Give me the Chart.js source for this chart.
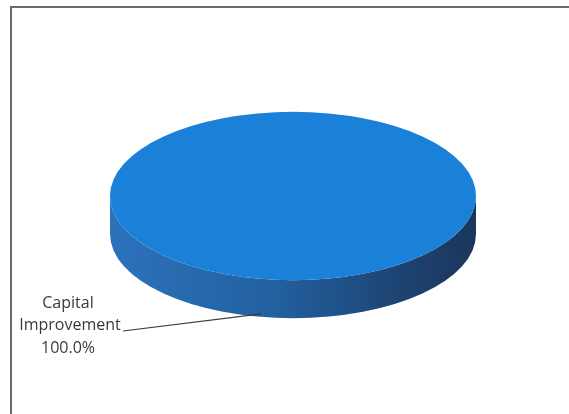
<!DOCTYPE html>
<html>
<head>
<meta charset="utf-8">
<script src="https://cdn.jsdelivr.net/npm/chart.js@4"></script>
<style>
  html, body { margin: 0; padding: 0; background: #fff; }
  #wrap { position: relative; width: 569px; height: 414px; }
  #frame { position: absolute; left: 10px; top: 6px; width: 570px; height: 420px;
           border-left: 2px solid #6a6a6a; border-top: 2px solid #6a6a6a; }
</style>
</head>
<body>
<div id="wrap">
  <div id="frame"></div>
  <canvas id="pieChart" width="569" height="414"></canvas>
</div>
<script>
var categories = ['Capital Improvement'];
var values = [100.0];
var topColors = ['#1b80d8'];

// 3D look: squash the pie into an ellipse and add a side wall
var tilt = 0.46;   // vertical squash of the top face
var depth = 38;    // side wall height in pixels

function percentText(i) {
    var total = values.reduce(function (a, b) { return a + b; }, 0);
    return (values[i] / total * 100).toFixed(1) + '%';
}

var pie3d = {
    id: 'pie3d',
    beforeDatasetsDraw: function (chart) {
        var arc = chart.getDatasetMeta(0).data[0];
        var ctx = chart.ctx;
        var cx = arc.x, cy = arc.y, r = arc.outerRadius;
        ctx.save();
        ctx.translate(cx, cy);
        ctx.scale(1, tilt);
        var d = depth / tilt;
        var grad = ctx.createLinearGradient(-r, 0, r, 0);
        grad.addColorStop(0, '#2c72bd');
        grad.addColorStop(0.45, '#22609f');
        grad.addColorStop(0.85, '#1d3f6c');
        grad.addColorStop(1, '#1a365c');
        ctx.beginPath();
        ctx.arc(0, d, r, 0, Math.PI, false);
        ctx.lineTo(-r, 0);
        ctx.arc(0, 0, r, Math.PI, 0, true);
        ctx.closePath();
        ctx.fillStyle = grad;
        ctx.fill();
        ctx.restore();

        // top face drawn by Chart.js under the same squash
        ctx.save();
        ctx.translate(cx, cy);
        ctx.scale(1, tilt);
        ctx.translate(-cx, -cy);
    },
    afterDatasetsDraw: function (chart) {
        chart.ctx.restore();
    },
    afterDraw: function (chart) {
        var arc = chart.getDatasetMeta(0).data[0];
        var ctx = chart.ctx;
        var a = 100 * Math.PI / 180;
        var ex = arc.x + arc.outerRadius * Math.cos(a);
        var ey = arc.y + arc.outerRadius * tilt * Math.sin(a) + depth - 3;
        var lx = 68, ly = 325;
        ctx.save();
        ctx.strokeStyle = '#3a3a3a';
        ctx.lineWidth = 1.2;
        ctx.beginPath();
        ctx.moveTo(123, ly + 6);
        ctx.lineTo(ex, ey);
        ctx.stroke();
        ctx.fillStyle = '#3a3a3a';
        ctx.font = '16px "Open Sans", sans-serif';
        ctx.textAlign = 'center';
        ctx.textBaseline = 'middle';
        var words = categories[0].split(' ');
        ctx.fillText(words[0], lx, ly - 22);
        ctx.fillText(words[1], lx + 2, ly);
        ctx.fillText(percentText(0), lx, ly + 23);
        ctx.restore();
    }
};

var ctx = document.getElementById('pieChart').getContext('2d');
var chart = new Chart(ctx, {
    type: 'pie',
    data: {
        labels: categories,
        datasets: [{
            data: values,
            backgroundColor: topColors,
            borderWidth: 0
        }]
    },
    options: {
        responsive: false,
        animation: false,
        layout: {
            padding: { left: 110, right: 93, top: 13, bottom: 35 }
        },
        plugins: {
            legend: { display: false },
            tooltip: { enabled: false }
        }
    },
    plugins: [pie3d]
});
</script>
</body>
</html>
